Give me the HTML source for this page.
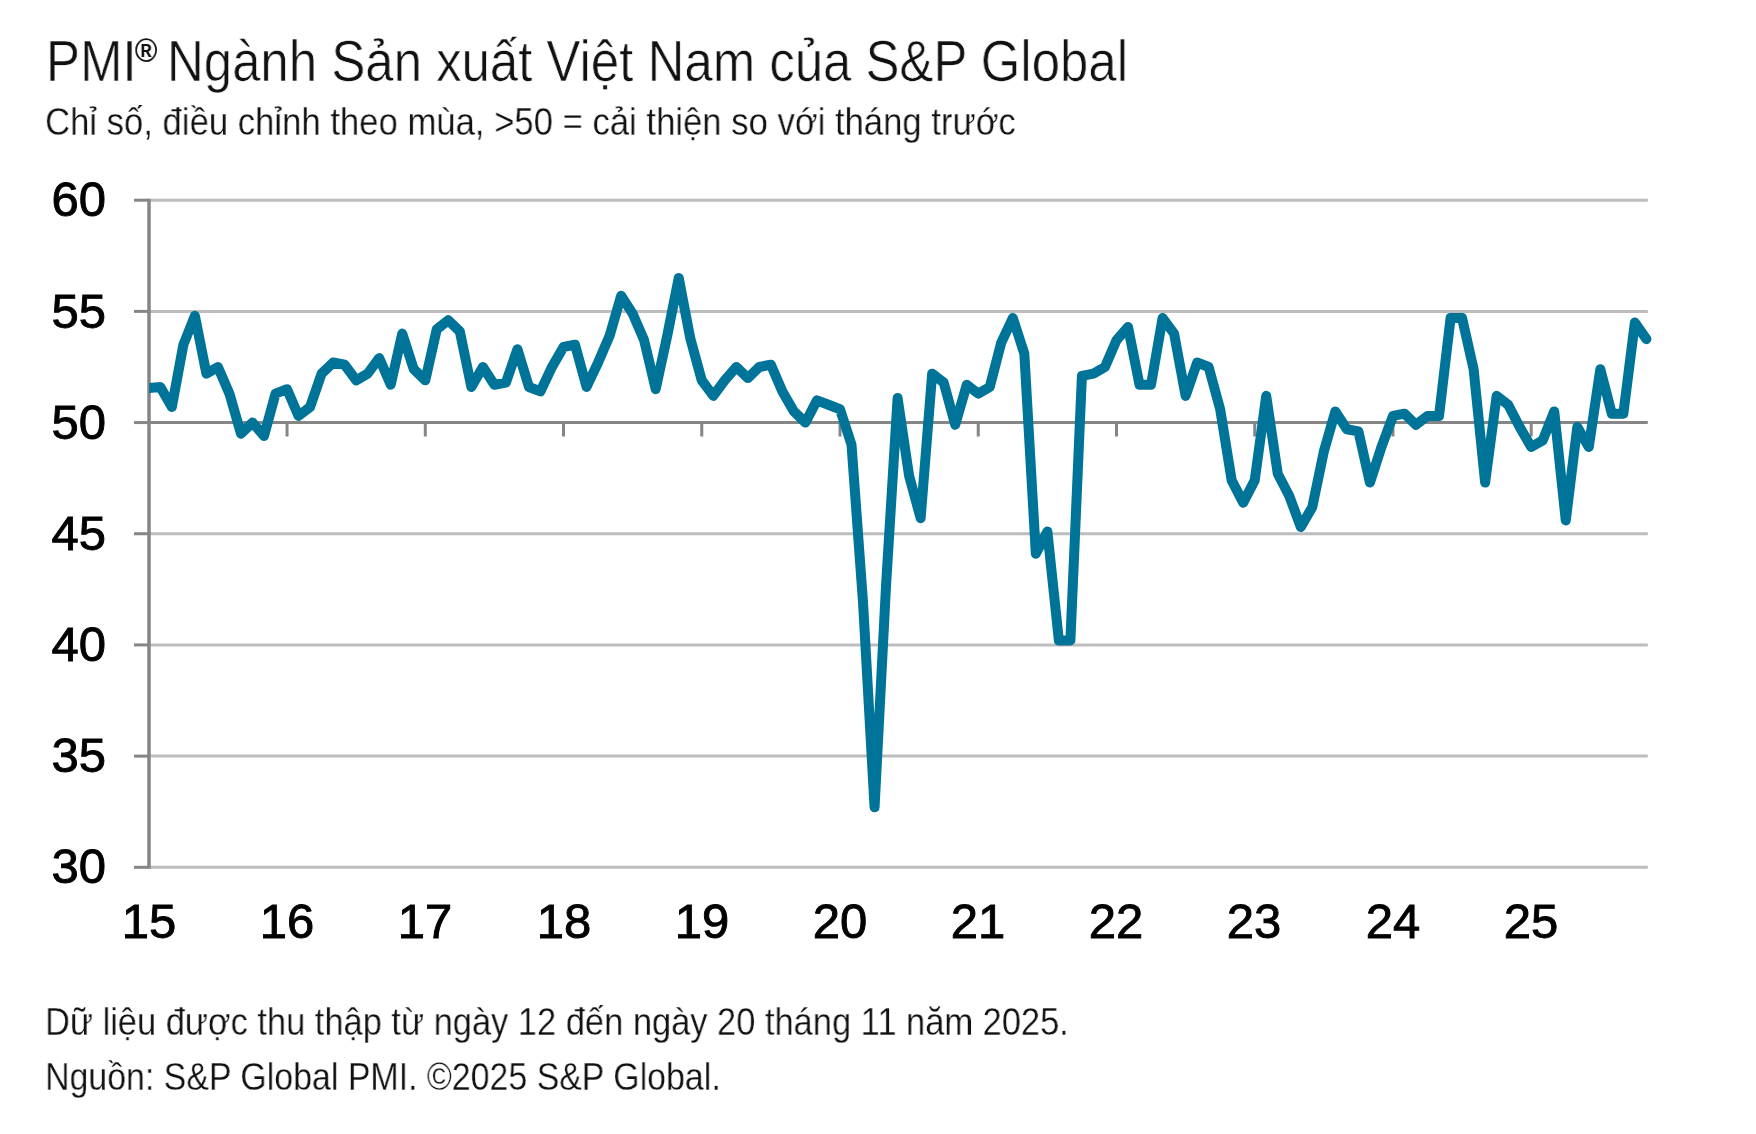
<!DOCTYPE html>
<html><head><meta charset="utf-8">
<style>
html,body{margin:0;padding:0;background:#fff;}
body{width:1756px;height:1134px;position:relative;overflow:hidden;font-family:"Liberation Sans",sans-serif;}
.t{position:absolute;white-space:nowrap;color:#111;transform-origin:0 0;will-change:transform;}
#title{left:45.9px;top:34.2px;font-size:56.5px;line-height:1;transform:scaleX(0.9016);-webkit-text-stroke:0.7px #fff;}
#sub{left:45px;top:102.6px;font-size:38px;line-height:1;transform:scaleX(0.9125);-webkit-text-stroke:0.3px #fff;}
#f1{left:45px;top:1002.6px;font-size:38px;line-height:1;transform:scaleX(0.9065);-webkit-text-stroke:0.3px #fff;}
#f2{left:45px;top:1057.5px;font-size:38px;line-height:1;transform:scaleX(0.892);-webkit-text-stroke:0.3px #fff;}
.yl{position:absolute;left:0;width:106px;text-align:right;font-size:49px;line-height:1;color:#000;transform:scaleX(1.0);transform-origin:100% 0;-webkit-text-stroke:0.9px #000;will-change:transform;}
.xl{position:absolute;top:896.5px;width:120px;text-align:center;font-size:49px;line-height:1;color:#000;transform:scaleX(1.0);transform-origin:50% 0;-webkit-text-stroke:0.9px #000;will-change:transform;}
svg{position:absolute;left:0;top:0;}
.reg{-webkit-text-stroke:0;font-weight:bold;font-size:34px;position:relative;top:-19px;margin-left:-2px;margin-right:-5px;}
</style></head><body>
<div class="t" id="title">PMI<span class="reg">®</span> Ngành Sản xuất Việt Nam của S&amp;P Global</div>
<div class="t" id="sub">Chỉ số, điều chỉnh theo mùa, &gt;50 = cải thiện so với tháng trước</div>
<svg width="1756" height="1134" viewBox="0 0 1756 1134">
<line x1="148.8" y1="200.20" x2="1647.8" y2="200.20" stroke="#bdbdbd" stroke-width="3"/>
<line x1="148.8" y1="311.38" x2="1647.8" y2="311.38" stroke="#bdbdbd" stroke-width="3"/>
<line x1="148.8" y1="533.75" x2="1647.8" y2="533.75" stroke="#bdbdbd" stroke-width="3"/>
<line x1="148.8" y1="644.93" x2="1647.8" y2="644.93" stroke="#bdbdbd" stroke-width="3"/>
<line x1="148.8" y1="756.12" x2="1647.8" y2="756.12" stroke="#bdbdbd" stroke-width="3"/>
<line x1="148.8" y1="867.30" x2="1647.8" y2="867.30" stroke="#bdbdbd" stroke-width="3"/>

<line x1="149.0" y1="198.70" x2="149.0" y2="868.80" stroke="#868686" stroke-width="3.5"/>
<line x1="134" y1="200.20" x2="148.8" y2="200.20" stroke="#868686" stroke-width="3"/>
<line x1="134" y1="311.38" x2="148.8" y2="311.38" stroke="#868686" stroke-width="3"/>
<line x1="134" y1="422.57" x2="148.8" y2="422.57" stroke="#868686" stroke-width="3"/>
<line x1="134" y1="533.75" x2="148.8" y2="533.75" stroke="#868686" stroke-width="3"/>
<line x1="134" y1="644.93" x2="148.8" y2="644.93" stroke="#868686" stroke-width="3"/>
<line x1="134" y1="756.12" x2="148.8" y2="756.12" stroke="#868686" stroke-width="3"/>
<line x1="134" y1="867.30" x2="148.8" y2="867.30" stroke="#868686" stroke-width="3"/>

<line x1="148.8" y1="422.57" x2="1647.8" y2="422.57" stroke="#868686" stroke-width="3"/>
<line x1="287.04" y1="422.57" x2="287.04" y2="436.5" stroke="#868686" stroke-width="3"/>
<line x1="425.28" y1="422.57" x2="425.28" y2="436.5" stroke="#868686" stroke-width="3"/>
<line x1="563.52" y1="422.57" x2="563.52" y2="436.5" stroke="#868686" stroke-width="3"/>
<line x1="701.76" y1="422.57" x2="701.76" y2="436.5" stroke="#868686" stroke-width="3"/>
<line x1="840.00" y1="422.57" x2="840.00" y2="436.5" stroke="#868686" stroke-width="3"/>
<line x1="978.24" y1="422.57" x2="978.24" y2="436.5" stroke="#868686" stroke-width="3"/>
<line x1="1116.48" y1="422.57" x2="1116.48" y2="436.5" stroke="#868686" stroke-width="3"/>
<line x1="1254.72" y1="422.57" x2="1254.72" y2="436.5" stroke="#868686" stroke-width="3"/>
<line x1="1392.96" y1="422.57" x2="1392.96" y2="436.5" stroke="#868686" stroke-width="3"/>
<line x1="1531.20" y1="422.57" x2="1531.20" y2="436.5" stroke="#868686" stroke-width="3"/>

<defs><clipPath id="pc"><rect x="149.2" y="0" width="1600" height="1134"/></clipPath></defs>
<polyline points="148.80,388.10 160.32,386.99 171.84,407.00 183.36,344.74 194.88,315.83 206.40,373.65 217.92,366.97 229.44,393.66 240.96,433.68 252.48,422.57 264.00,435.91 275.52,393.66 287.04,389.21 298.56,415.90 310.08,407.00 321.60,373.65 333.12,362.53 344.64,364.75 356.16,380.32 367.68,373.65 379.20,358.08 390.72,384.76 402.24,333.62 413.76,369.20 425.28,380.32 436.80,329.17 448.32,320.28 459.84,331.40 471.36,386.99 482.88,366.97 494.40,384.76 505.92,382.54 517.44,349.19 528.96,386.99 540.48,391.44 552.00,366.97 563.52,346.96 575.04,344.74 586.56,386.99 598.08,362.53 609.60,335.84 621.12,295.82 632.64,313.61 644.16,340.29 655.68,389.21 667.20,335.84 678.72,278.03 690.24,338.07 701.76,380.32 713.28,395.88 724.80,380.32 736.32,366.97 747.84,378.09 759.36,366.97 770.88,364.75 782.40,391.44 793.92,411.45 805.44,422.57 816.96,400.33 828.48,404.78 840.00,409.22 851.52,444.80 863.04,602.68 874.56,807.26 886.08,584.89 897.60,398.11 909.12,475.93 920.64,518.18 932.16,373.65 943.68,382.54 955.20,424.79 966.72,384.76 978.24,393.66 989.76,386.99 1001.28,342.51 1012.80,318.05 1024.32,353.63 1035.84,553.76 1047.36,531.53 1058.88,640.49 1070.40,640.49 1081.92,375.87 1093.44,373.65 1104.96,366.97 1116.48,340.29 1128.00,326.95 1139.52,384.76 1151.04,384.76 1162.56,318.05 1174.08,333.62 1185.60,395.88 1197.12,362.53 1208.64,366.97 1220.16,409.22 1231.68,480.38 1243.20,502.62 1254.72,480.38 1266.24,395.88 1277.76,473.71 1289.28,495.95 1300.80,527.08 1312.32,507.07 1323.84,451.47 1335.36,411.45 1346.88,429.24 1358.40,431.46 1369.92,482.61 1381.44,447.03 1392.96,415.90 1404.48,413.67 1416.00,424.79 1427.52,415.90 1439.04,415.90 1450.56,318.05 1462.08,318.05 1473.60,369.20 1485.12,482.61 1496.64,395.88 1508.16,404.78 1519.68,427.01 1531.20,447.03 1542.72,440.36 1554.24,411.45 1565.76,520.41 1577.28,427.01 1588.80,447.03 1600.32,369.20 1611.84,413.67 1623.36,413.67 1634.88,322.50 1646.40,339.18" fill="none" stroke="#007398" stroke-width="10" stroke-linejoin="round" stroke-linecap="round" clip-path="url(#pc)"/>
</svg>
<div class="yl" style="top:175.3px">60</div>
<div class="yl" style="top:286.5px">55</div>
<div class="yl" style="top:397.7px">50</div>
<div class="yl" style="top:508.9px">45</div>
<div class="yl" style="top:620.0px">40</div>
<div class="yl" style="top:731.2px">35</div>
<div class="yl" style="top:842.4px">30</div>

<div class="xl" style="left:89.1px">15</div>
<div class="xl" style="left:227.2px">16</div>
<div class="xl" style="left:365.4px">17</div>
<div class="xl" style="left:503.6px">18</div>
<div class="xl" style="left:641.7px">19</div>
<div class="xl" style="left:779.9px">20</div>
<div class="xl" style="left:918.0px">21</div>
<div class="xl" style="left:1056.2px">22</div>
<div class="xl" style="left:1194.3px">23</div>
<div class="xl" style="left:1332.5px">24</div>
<div class="xl" style="left:1470.6px">25</div>

<div class="t" id="f1">Dữ liệu được thu thập từ ngày 12 đến ngày 20 tháng 11 năm 2025.</div>
<div class="t" id="f2">Nguồn: S&amp;P Global PMI. ©2025 S&amp;P Global.</div>
</body></html>
